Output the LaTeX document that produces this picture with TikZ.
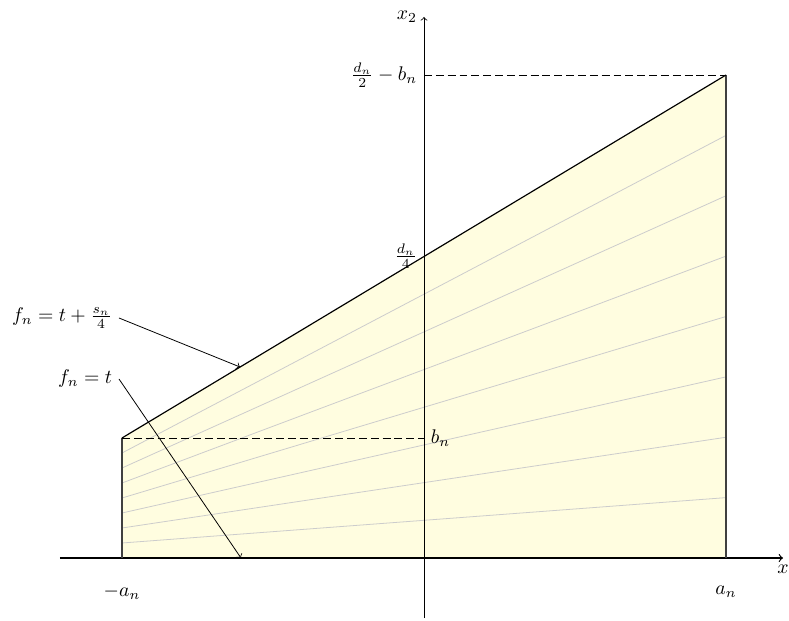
\documentclass[tikz,border=0pt]{standalone}
\begin{document}
\begin{tikzpicture}[x=1.78cm, y=1.78cm, >=to]
    \useasboundingbox (-4.24,-0.62) rectangle (3.65,5.58);

    % Corners of the region
    \coordinate (O) at (0,0);
    \coordinate (L) at (-3.02,0);
    \coordinate (R) at (3.02,0);
    \coordinate (A) at (-3.02,1.2);
    \coordinate (B) at (3.02,4.83);
    \coordinate (Bn) at (0,1.2);
    \coordinate (Dn) at (0,4.83);
    \coordinate (Q) at (0,3.02);

    % Axis ends
    \coordinate (xs) at (-3.64,0);
    \coordinate (xe) at (3.59,0);
    \coordinate (ys) at (0,-0.6);
    \coordinate (ye) at (0,5.41);

    % Arrow targets
    \coordinate (tTop) at (-1.84,1.91);
    \coordinate (tBot) at (-1.83,0);

    % Fill the region
    \fill[yellow!12] (L) -- (A) -- (B) -- (R) -- cycle;

    % Level lines
    \foreach \i in {1,...,7}
        \draw[gray!40] (-3.02,{\i*1.2/8}) -- (3.02,{\i*4.83/8});

    % Axes
    \draw[->, semithick] (xs) -- (xe);
    \draw[->] (ys) -- (ye);

    % Boundary of the region
    \draw[semithick] (A) -- (B);
    \draw[thick, black!75] (L) -- (A);
    \draw[thick, black!75] (R) -- (B);

    % Dashed levels
    \draw[dash pattern=on 4pt off 2pt] (A) -- (Bn);
    \draw[dash pattern=on 4pt off 2pt] (Dn) -- (B);

    % Axis labels
    \node[below] (xlab) at (xe) {$x$};
    \node[left] (ylab) at (ye) {$x_2$};
    \node (la) at (-3.02,-0.34) {$-a_n$};
    \node (ra) at (3.02,-0.34) {$a_n$};
    \node[right] (lb) at (Bn) {$b_n$};
    \node[left] (ld) at (Dn) {$\frac{d_n}{2}-b_n$};
    \node[left] (lq) at (Q) {$\frac{d_n}{4}$};

    % Level labels with arrows
    \node[anchor=east] (fTop) at (-3.05,2.40) {$f_n=t+\frac{s_n}{4}$};
    \node[anchor=east] (fBot) at (-3.05,1.79) {$f_n=t$};
    \draw[->] (fTop.east) -- (tTop);
    \draw[->] (fBot.east) -- (tBot);
\end{tikzpicture}
\end{document}
